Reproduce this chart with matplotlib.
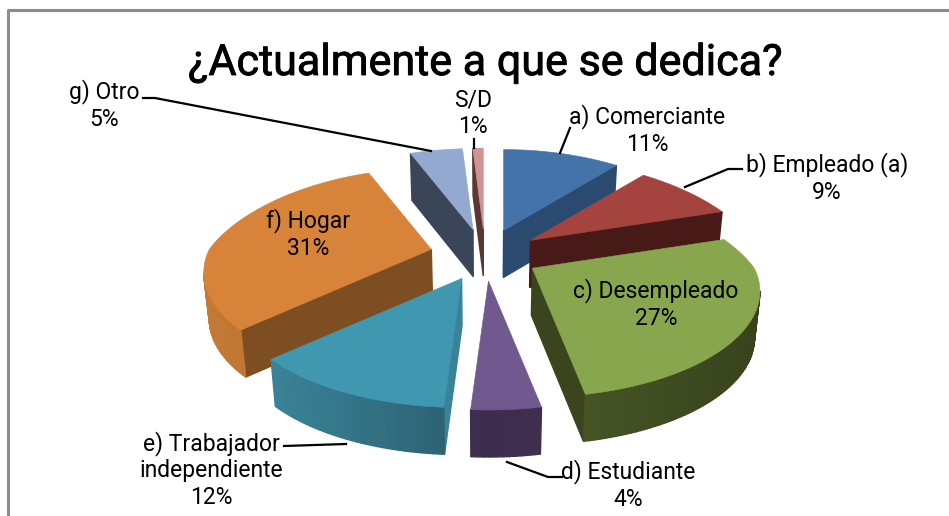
import numpy as np
import matplotlib
matplotlib.use("Agg")
import matplotlib.pyplot as plt
import matplotlib.patheffects as pe

plt.rcParams['font.family'] = ['Roboto', 'Liberation Sans', 'DejaVu Sans']

title = "¿Actualmente a que se dedica?"
categories = ["a) Comerciante", "b) Empleado (a)", "c) Desempleado", "d) Estudiante",
              "e) Trabajador\nindependiente", "f) Hogar", "g) Otro", "S/D"]
values = [11, 9, 27, 4, 12, 31, 5, 1]
top_colors = ["#4373A8", "#A5433F", "#88A64E", "#71588F", "#4098B0", "#D8833A", "#93A9CF", "#D09393"]
cut_colors = ["#2B4A70", "#471A18", "#3A451D", "#3F2F4F", "#3A8296", "#7C4E22", "#3A4558", "#5A3735"]
rim_front = ["#2B4A70", "#471A18", "#4A5A28", "#3D2D4C", "#2A5C6C", "#A9682C", "#3A4558", "#5A3735"]
rim_side = ["#35598A", "#5A2422", "#36411B", "#46345A", "#3F8EA5", "#C67B36", "#4A5870", "#6A4240"]
draw_order = [7, 6, 0, 1, 5, 2, 4, 3]

label_xy = [(647, 130), (827, 178), (656, 304), (628, 485), (211, 470), (308, 234), (104, 105), (473, 113)]
leaders = [[(570, 128), (560, 153)],
           [(742, 169), (728, 169), (685, 187)],
           None,
           [(562, 477), (548, 477), (507, 462)],
           [(284, 446), (346, 444)],
           None,
           [(143, 98), (155, 98), (431, 151)],
           [(474, 139), (474, 148)]]

CX, CY = 485, 255
EX, EY = 55, 26
RX, RY, K = 222, 99.5, 0.229
K_BACK, K_FRONT = 0.33, 0.22
H = 47
SHRINK = 0.98


def rim(theta):
    s, c = np.sin(theta), np.cos(theta)
    w = 1 / (1 + K * c)
    wx = 1 / (1 + np.where(c > 0, K_BACK, K_FRONT) * c)
    return RX * s * wx, -RY * c * w


def lower(P):
    P = np.asarray(P, float)
    out = P.copy()
    out[..., 0] = CX + (P[..., 0] - CX) * SHRINK
    out[..., 1] = P[..., 1] + H
    return out


def mix(a, b, t):
    a = np.array(matplotlib.colors.to_rgb(a))
    b = np.array(matplotlib.colors.to_rgb(b))
    return tuple(a + (b - a) * t)


fig = plt.figure(figsize=(9.49, 5.16), dpi=100)
ax = fig.add_axes([0, 0, 1, 1])
ax.set_xlim(0, 949)
ax.set_ylim(516, 0)
ax.axis("off")

ax.plot([8.5, 8.5, 949], [516, 9.5, 9.5], color="#8C8C8C", lw=2.2, solid_capstyle="butt", zorder=1)

fracs = np.array(values, float) / sum(values)
edges = np.concatenate([[0], np.cumsum(fracs)]) * 2 * np.pi

z = 2
for i in draw_order:
    a0, a1 = edges[i], edges[i + 1]
    mid = (a0 + a1) / 2
    apex = np.array([CX + EX * np.sin(mid), CY - EY * np.cos(mid)])
    t = np.linspace(a0, a1, max(int((a1 - a0) / 0.02), 3))
    rx, ry = rim(t)
    arc = np.column_stack([apex[0] + rx, apex[1] + ry])
    poly = np.vstack([apex, arc])

    area = 0.5 * np.sum(poly[:, 0] * np.roll(poly[:, 1], -1) - np.roll(poly[:, 0], -1) * poly[:, 1])
    faces = []
    n = len(poly)
    for j in range(n):
        P, Q = poly[j], poly[(j + 1) % n]
        d = Q - P
        normal_y = -d[0] if area > 0 else d[0]
        if normal_y <= 0:
            continue
        if j == 0 or j == n - 1:
            col = cut_colors[i]
        else:
            col = mix(rim_front[i], rim_side[i], np.abs(np.sin(t[min(j, len(t) - 1)])) ** 0.8)
        faces.append(((P[1] + Q[1]) / 2, P, Q, col))
    for _, P, Q, col in sorted(faces, key=lambda f: f[0]):
        q = np.array([P, Q, lower(Q), lower(P)])
        ax.fill(q[:, 0], q[:, 1], color=col, lw=1.0, zorder=z)
        z += 0.001
    ax.fill(poly[:, 0], poly[:, 1], color=top_colors[i], lw=0.4, zorder=z)
    z += 0.01

for pts in leaders:
    if pts:
        xs, ys = zip(*pts)
        ax.plot(xs, ys, color="black", lw=1.6, zorder=20)

for cat, val, (x, y) in zip(categories, values, label_xy):
    ax.text(x, y, f"{cat}\n{val}%", ha="center", va="center", fontsize=16.5, color="black",
            linespacing=1.2, zorder=21)

ax.text(485, 75, title, ha="center", va="baseline", fontsize=31, color="black", zorder=21,
        path_effects=[pe.withStroke(linewidth=0.6, foreground="black")])

fig.savefig("out.png", dpi=100)
